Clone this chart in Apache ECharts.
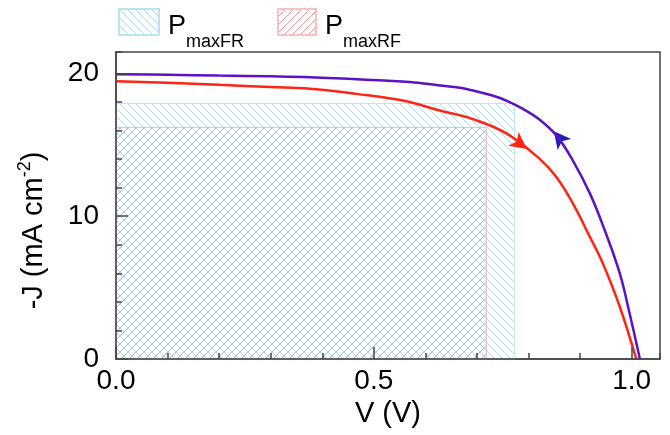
<!DOCTYPE html>
<html>
<head>
<meta charset="utf-8">
<script src="https://cdn.jsdelivr.net/npm/echarts@6/dist/echarts.min.js"></script>
<style>
html,body{margin:0;padding:0;background:#fff;}
#chart{width:670px;height:435px;}
</style>
</head>
<body>
<div id="chart"></div>
<script>
// J-V curve, forward-to-reverse scan (purple)
const vFR = [0, 0.1, 0.2, 0.3, 0.376, 0.45, 0.52, 0.57, 0.628, 0.667, 0.692, 0.73, 0.757, 0.79, 0.822, 0.854, 0.886, 0.919, 0.948, 0.977, 0.996, 1.016];
const jFR = [19.95, 19.9, 19.85, 19.8, 19.74, 19.62, 19.5, 19.4, 19.16, 19.0, 18.8, 18.45, 18.1, 17.5, 16.75, 15.66, 13.9, 11.6, 9.0, 6.0, 3.2, 0];
// J-V curve, reverse-to-forward scan (red)
const vRF = [0, 0.1, 0.2, 0.3, 0.376, 0.47, 0.556, 0.628, 0.692, 0.757, 0.822, 0.854, 0.886, 0.919, 0.944, 0.977, 1.009];
const jRF = [19.45, 19.35, 19.2, 19.05, 18.93, 18.55, 18.1, 17.4, 16.8, 15.8, 14.0, 12.75, 10.9, 8.55, 6.7, 3.66, 0];
// maximum power rectangles [V start, V end, J top, J bottom]
const rectFR = [0, 0.773, 17.9, 0];
const rectRF = [0, 0.718, 16.2, 0];
// scan direction arrows [V, J, rotation]
const arrowFR = [0.849, 15.95, 39];
const arrowRF = [0.797, 14.7, -127];
const xTicks = [0, 0.5, 1.0];
const yTicks = [0, 10, 20];

const HATCH = 8;
function hatch(color, dir) {
  const s = HATCH;
  const c = document.createElement('canvas');
  c.width = s; c.height = s;
  const g = c.getContext('2d');
  g.strokeStyle = color; g.lineWidth = 1;
  g.beginPath();
  if (dir > 0) { g.moveTo(-1, -1); g.lineTo(s + 1, s + 1); }
  else { g.moveTo(-1, s + 1); g.lineTo(s + 1, -1); }
  g.stroke();
  return { image: c, repeat: 'repeat' };
}
const blueHatch = '#b3dcf3', redHatch = '#f39a9a';
const patFR = hatch(blueHatch, 1);
const patRF = hatch(redHatch, -1);

function rectRender(color, border, dir) {
  return function (params, api) {
    const p0 = api.coord([api.value(0), api.value(2)]);
    const p1 = api.coord([api.value(1), api.value(3)]);
    const x0 = p0[0], y0 = p0[1], x1 = p1[0], y1 = p1[1];
    const children = [];
    if (dir > 0) {
      const cMin = Math.floor((x0 - y1) / HATCH) * HATCH, cMax = x1 - y0;
      for (let c = cMin; c <= cMax; c += HATCH) {
        const xs = Math.max(x0, c + y0), xe = Math.min(x1, c + y1);
        if (xe > xs) children.push({ type: 'line', shape: { x1: xs, y1: xs - c, x2: xe, y2: xe - c }, style: { stroke: color, fill: null, lineWidth: 1 } });
      }
    } else {
      const cMin = Math.floor((x0 + y0) / HATCH) * HATCH, cMax = x1 + y1;
      for (let c = cMin; c <= cMax; c += HATCH) {
        const xs = Math.max(x0, c - y1), xe = Math.min(x1, c - y0);
        if (xe > xs) children.push({ type: 'line', shape: { x1: xs, y1: c - xs, x2: xe, y2: c - xe }, style: { stroke: color, fill: null, lineWidth: 1 } });
      }
    }
    children.push({ type: 'rect', shape: { x: x0, y: y0, width: x1 - x0, height: y1 - y0 },
      style: { fill: null, stroke: border, lineWidth: 1 } });
    return { type: 'group', children: children };
  };
}

const zip = (a, b) => a.map((v, i) => [v, b[i]]);
const font = 'Liberation Sans, Arial, sans-serif';
const legRich = {
  p: { fontSize: 27, fontFamily: font, color: '#000', lineHeight: 30, verticalAlign: 'top', padding: [6, 0, 6, 0] },
  s: { fontSize: 18, fontFamily: font, color: '#000', lineHeight: 18, verticalAlign: 'top', padding: [26, 0, 0, 0] }
};
const tickFont = { fontSize: 28, fontFamily: font, color: '#000' };

const chart = echarts.init(document.getElementById('chart'));
chart.setOption({
  animation: false,
  backgroundColor: '#fff',
  grid: { left: 116, right: 10, top: 52, bottom: 76, show: true, borderColor: '#444', borderWidth: 1.5, backgroundColor: 'transparent' },
  legend: [
    { data: ['PmaxFR'], left: 118, top: 7, padding: 0, itemWidth: 40, itemHeight: 26, icon: 'rect',
      formatter: () => '{p|P}{s|maxFR}', textStyle: { rich: legRich, padding: [0, 0, 0, 4] } },
    { data: ['PmaxRF'], left: 277, top: 7, padding: 0, itemWidth: 38, itemHeight: 26, icon: 'rect',
      formatter: () => '{p|P}{s|maxRF}', textStyle: { rich: legRich, padding: [0, 0, 0, 4] } }
  ],
  xAxis: [
    { type: 'value', min: 0, max: 1.055, interval: 0.5, position: 'bottom', z: 10,
      name: 'V (V)', nameLocation: 'middle', nameGap: 37,
      nameTextStyle: { fontSize: 29, fontFamily: font, color: '#000' },
      axisLine: { lineStyle: { color: '#444', width: 1.5 } },
      axisTick: { inside: true, length: 12, lineStyle: { color: '#444', width: 1.5 } },
      axisLabel: Object.assign({ margin: 8, showMaxLabel: false,
        formatter: v => xTicks.includes(v) ? v.toFixed(1) : '' }, tickFont),
      splitLine: { show: false } },
    { type: 'value', min: 0, max: 1.055, interval: 0.1, position: 'bottom', z: 10,
      axisLine: { show: false },
      axisTick: { inside: true, length: 6, lineStyle: { color: '#444', width: 1.5 } },
      axisLabel: { show: false }, splitLine: { show: false } }
  ],
  yAxis: [
    { type: 'value', min: 0, max: 21.5, interval: 10, position: 'left', z: 10,
      name: '{a|-J (mA cm}{sup|-2}{a|)}', nameLocation: 'middle', nameGap: 68,
      nameTextStyle: { padding: [0, 50, 0, 0], rich: {
        a: { fontSize: 29, fontFamily: font, color: '#000', lineHeight: 32, verticalAlign: 'bottom' },
        sup: { fontSize: 18, fontFamily: font, color: '#000', lineHeight: 18, verticalAlign: 'top' } } },
      axisLine: { lineStyle: { color: '#444', width: 1.5 } },
      axisTick: { inside: true, length: 12, lineStyle: { color: '#444', width: 1.5 } },
      axisLabel: Object.assign({ margin: 17, showMaxLabel: false,
        formatter: v => yTicks.includes(v) ? String(v) : '' }, tickFont),
      splitLine: { show: false } },
    { type: 'value', min: 0, max: 21.5, interval: 2, position: 'left', z: 10,
      axisLine: { show: false },
      axisTick: { inside: true, length: 6, lineStyle: { color: '#444', width: 1.5 } },
      axisLabel: { show: false }, splitLine: { show: false } }
  ],
  series: [
    { name: 'PmaxFR', type: 'custom', z: 1, renderItem: rectRender(blueHatch, '#bde2f6', 1),
      itemStyle: { color: patFR, borderColor: '#bde2f6', borderWidth: 1 },
      encode: { x: [0, 1], y: [2, 3] }, data: [rectFR] },
    { name: 'PmaxRF', type: 'custom', z: 2, renderItem: rectRender(redHatch, '#f2b0b0', -1),
      itemStyle: { color: patRF, borderColor: '#f6c2c2', borderWidth: 1 },
      encode: { x: [0, 1], y: [2, 3] }, data: [rectRF] },
    { name: 'FR', type: 'line', z: 5, smooth: 0.4, showSymbol: false, symbol: 'none',
      lineStyle: { color: '#5b12c6', width: 2.5 }, data: zip(vFR, jFR),
      markPoint: { symbol: 'arrow', symbolSize: [13, 17], label: { show: false },
        itemStyle: { color: '#1f1fb4' },
        data: [{ coord: [arrowFR[0], arrowFR[1]], symbolRotate: arrowFR[2] }] } },
    { name: 'RF', type: 'line', z: 5, smooth: 0.4, showSymbol: false, symbol: 'none',
      lineStyle: { color: '#ff2414', width: 2.5 }, data: zip(vRF, jRF),
      markPoint: { symbol: 'arrow', symbolSize: [13, 17], label: { show: false },
        itemStyle: { color: '#ff2414' },
        data: [{ coord: [arrowRF[0], arrowRF[1]], symbolRotate: arrowRF[2] }] } }
  ]
});
</script>
</body>
</html>
